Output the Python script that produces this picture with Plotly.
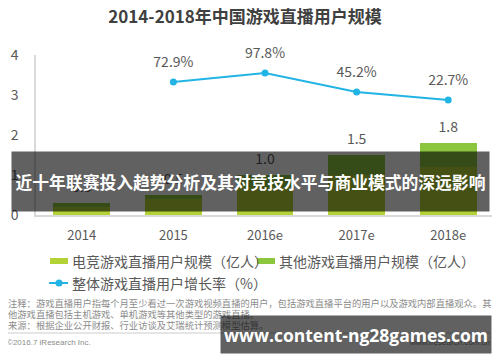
import plotly.graph_objects as go

# ---------------- data ----------------
years = ["2014", "2015", "2016e", "2017e", "2018e"]
esports_users = [0.2, 0.4, 0.7, 1.0, 1.2]      # 电竞游戏直播用户规模（亿人）
other_users = [0.1, 0.1, 0.3, 0.5, 0.6]        # 其他游戏直播用户规模（亿人）
growth_years = ["2015", "2016e", "2017e", "2018e"]
growth_rate = [72.9, 97.8, 45.2, 22.7]         # 整体游戏直播用户增长率（%）
y_ticks = [0, 1, 2, 3, 4]
legend_labels = ["电竞游戏直播用户规模（亿人）", "其他游戏直播用户规模（亿人）", "整体游戏直播用户增长率（%）"]

totals = [round(a + b, 1) for a, b in zip(esports_users, other_users)]

FONT = "Noto Sans CJK SC"
GRAY = "#595959"
LIME = "#b3d236"
GREEN = "#8cc63f"
BLUE = "#22b4e4"

# page body has an 8px margin: figure is drawn at (8, 8) in the window
OFF = 8
PL, PR, PT, PB = 36, 494, 55, 215          # plot area in window pixels
W, H = 500 - OFF, 362 - OFF


def px(x):
    return (x - PL) / (PR - PL)


def py(y):
    return (PB - y) / (PB - PT)


fig = go.Figure()

fig.add_trace(go.Bar(
    x=years, y=esports_users, name=legend_labels[0], showlegend=False,
    marker=dict(color=LIME, line=dict(width=0)),
))
fig.add_trace(go.Bar(
    x=years, y=other_users, name=legend_labels[1], showlegend=False,
    marker=dict(color=GREEN, line=dict(width=0)),
))
# total labels above bars
fig.add_trace(go.Scatter(
    x=years, y=totals, mode="markers+text", showlegend=False, hoverinfo="skip",
    marker=dict(size=10, color="rgba(0,0,0,0)"),
    text=[f"{t:.1f}" for t in totals], textposition="top center",
    textfont=dict(size=14, color=GRAY, family=FONT), cliponaxis=False,
))
fig.add_trace(go.Scatter(
    x=growth_years, y=growth_rate, yaxis="y2", name=legend_labels[2], showlegend=False,
    mode="lines+markers",
    line=dict(color=BLUE, width=2), marker=dict(color=BLUE, size=7),
))
fig.add_trace(go.Scatter(
    x=growth_years, y=growth_rate, yaxis="y2", showlegend=False, hoverinfo="skip",
    mode="markers+text", marker=dict(size=17, color="rgba(0,0,0,0)"),
    text=[f"{v:.1f}%" for v in growth_rate], textposition="top center",
    textfont=dict(size=14, color=GRAY, family=FONT), cliponaxis=False,
))

annotations = []
shapes = []

# ---- manual legend ----
leg_items = [(50, 261, "bar", LIME, legend_labels[0]),
             (257, 261, "bar", GREEN, legend_labels[1]),
             (50, 283, "line", BLUE, legend_labels[2])]
for lx, ly, kind, col, lab in leg_items:
    if kind == "bar":
        shapes.append(dict(type="rect", xref="paper", yref="paper",
                           x0=px(lx), x1=px(lx + 18), y0=py(ly + 3), y1=py(ly - 3),
                           fillcolor=col, line=dict(width=0)))
    else:
        shapes.append(dict(type="line", xref="paper", yref="paper",
                           x0=px(lx - 1), x1=px(lx + 18), y0=py(ly), y1=py(ly),
                           line=dict(color=col, width=2)))
        shapes.append(dict(type="circle", xref="paper", yref="paper",
                           x0=px(lx + 5.5), x1=px(lx + 12.5), y0=py(ly + 3.5), y1=py(ly - 3.5),
                           fillcolor=col, line=dict(width=0)))
    annotations.append(dict(
        text=lab, xref="paper", yref="paper", x=px(lx + 20), y=py(ly),
        xanchor="left", yanchor="middle", showarrow=False,
        font=dict(size=14, color=GRAY, family=FONT),
    ))

# banner overlay
annotations.append(dict(
    text="<b>近十年联赛投入趋势分析及其对竞技水平与商业模式的深远影响</b>",
    xref="paper", yref="paper", x=px(250.5), y=py(181.5),
    xanchor="center", yanchor="middle", showarrow=False,
    width=477, height=59, borderpad=0, bgcolor="rgba(0,0,0,0.62)",
    font=dict(size=16.8, color="white", family=FONT),
))
# footnotes
foot = [
    ("注释：游戏直播用户指每个月至少看过一次游戏视频直播的用户，包括游戏直播平台的用户以及游戏内部直播观众。其", 303),
    ("他游戏直播包括主机游戏、单机游戏等其他类型的游戏直播。", 314),
    ("来源：根据企业公开财报、行业访谈及艾瑞统计预测模型估算。", 325),
]
for txt, yy in foot:
    annotations.append(dict(
        text=txt, xref="paper", yref="paper", x=px(6), y=py(yy),
        xanchor="left", yanchor="middle", showarrow=False,
        font=dict(size=9.3, color="#8c8c8c", family=FONT),
    ))
annotations.append(dict(
    text="©2016.7 iResearch Inc.", xref="paper", yref="paper",
    x=px(5), y=py(342), xanchor="left", yanchor="middle",
    showarrow=False, font=dict(size=8, color="#8c8c8c", family="Liberation Sans"),
))
annotations.append(dict(
    text="www.iresearch.com.cn", xref="paper", yref="paper",
    x=px(492), y=py(342), xanchor="right", yanchor="middle",
    showarrow=False, font=dict(size=8, color="#8c8c8c", family="Liberation Sans"),
))
# watermark overlay
annotations.append(dict(
    text="<b>www.content-ng28games.com</b>",
    xref="paper", yref="paper", x=px(356), y=py(334.5),
    xanchor="center", yanchor="middle", showarrow=False,
    width=270, height=37, borderpad=0, bgcolor="rgba(0,0,0,0.62)",
    font=dict(size=17.5, color="white", family="Open Sans"),
))

shapes.append(dict(
    type="line", xref="paper", yref="paper",
    x0=px(5), x1=px(490), y0=py(333), y1=py(333),
    line=dict(color="#cccccc", width=1),
))

fig.update_layout(
    width=W, height=H,
    margin=dict(l=PL - OFF, r=W - (PR - OFF), t=PT - OFF, b=H - (PB - OFF)),
    paper_bgcolor="white", plot_bgcolor="white",
    barmode="stack", bargap=0.38,
    font=dict(family=FONT, color=GRAY),
    showlegend=False,
    title=dict(
        text="<b>2014-2018年中国游戏直播用户规模</b>",
        x=(245 - OFF) / W, xanchor="center", y=1 - (17 - OFF) / H, yanchor="middle",
        font=dict(size=17, color="#404040", family=FONT),
    ),
    xaxis=dict(
        showgrid=False, showline=True, linecolor="#d9d9d9", linewidth=1.5,
        ticks="outside", ticklen=8, tickcolor="rgba(0,0,0,0)",
        tickfont=dict(size=13, color=GRAY), fixedrange=True,
    ),
    yaxis=dict(
        range=[0, 4], tickvals=y_ticks, showgrid=False, zeroline=False,
        showline=True, linecolor="#d9d9d9", linewidth=1.5,
        ticks="outside", ticklen=13, tickcolor="rgba(0,0,0,0)",
        tickfont=dict(size=14, color=GRAY), automargin=False,
    ),
    yaxis2=dict(
        overlaying="y", range=[-296.7, 147.8], visible=False,
    ),
    annotations=annotations, shapes=shapes,
)

fig.write_html("out.html")
